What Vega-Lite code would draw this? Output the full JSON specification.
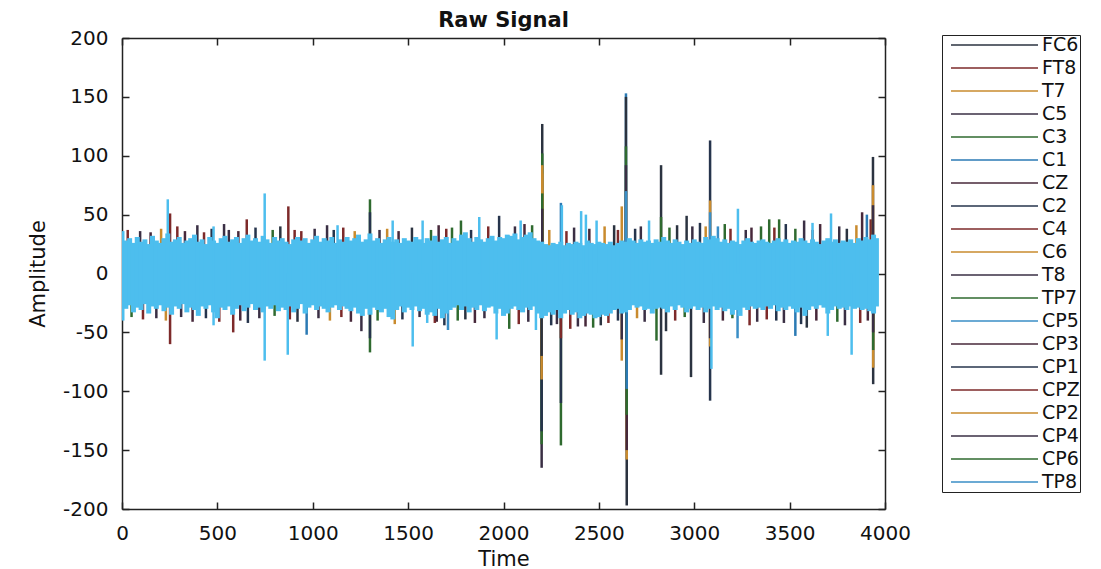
{
  "$schema": "https://vega.github.io/schema/vega-lite/v6.json",
  "width": 763,
  "height": 471,
  "autosize": "none",
  "padding": {"left": 122, "top": 38, "right": 216, "bottom": 60},
  "background": "white",
  "title": {"text": "Raw Signal", "font": "DejaVu Sans", "fontSize": 21, "fontWeight": "bold", "color": "#111", "anchor": "middle", "offset": -3},
  "config": {
    "view": {"stroke": null},
    "axis": {"domainColor": "#222", "domainWidth": 1.5, "tickColor": "#222", "tickWidth": 1.5, "tickSize": -7, "labelFont": "DejaVu Sans", "labelFontSize": 20, "labelColor": "#111", "labelPadding": 21, "labelOverlap": false, "labelFlush": false, "grid": false, "titleFont": "DejaVu Sans", "titleFontSize": 21, "titleFontWeight": "normal", "titleColor": "#111"},
    "legend": {"orient": "none", "legendX": 820, "legendY": -3, "symbolType": "stroke", "symbolSize": 7569, "symbolStrokeWidth": 1.6, "symbolOffset": 8, "labelFont": "DejaVu Sans", "labelFontSize": 19, "labelColor": "#111", "strokeColor": "#222", "fillColor": "white", "padding": 0, "clipHeight": 20, "rowPadding": 3, "labelOffset": 3, "symbolOpacity": 1}
  },
  "datasets": {
    "band": [
      {"t":0,"hi":36,"lo":-40},{"t":20,"hi":28,"lo":-30},{"t":40,"hi":30,"lo":-27},{"t":60,"hi":26,"lo":-33},{"t":80,"hi":31,"lo":-29},{"t":100,"hi":27,"lo":-31},{"t":120,"hi":29,"lo":-26},{"t":140,"hi":25,"lo":-34},{"t":160,"hi":32,"lo":-28},{"t":180,"hi":28,"lo":-30},
      {"t":200,"hi":26,"lo":-27},{"t":220,"hi":30,"lo":-32},{"t":240,"hi":34,"lo":-29},{"t":260,"hi":27,"lo":-35},{"t":280,"hi":29,"lo":-28},{"t":300,"hi":31,"lo":-30},{"t":320,"hi":26,"lo":-26},{"t":340,"hi":28,"lo":-33},{"t":360,"hi":30,"lo":-29},{"t":380,"hi":33,"lo":-31},
      {"t":400,"hi":27,"lo":-36},{"t":420,"hi":29,"lo":-28},{"t":440,"hi":25,"lo":-30},{"t":460,"hi":31,"lo":-27},{"t":480,"hi":28,"lo":-33},{"t":500,"hi":26,"lo":-38},{"t":520,"hi":30,"lo":-29},{"t":540,"hi":32,"lo":-31},{"t":560,"hi":27,"lo":-28},{"t":580,"hi":29,"lo":-35},
      {"t":600,"hi":31,"lo":-30},{"t":620,"hi":26,"lo":-27},{"t":640,"hi":30,"lo":-32},{"t":660,"hi":33,"lo":-29},{"t":680,"hi":28,"lo":-26},{"t":700,"hi":30,"lo":-31},{"t":720,"hi":27,"lo":-29},{"t":740,"hi":32,"lo":-33},{"t":760,"hi":29,"lo":-28},{"t":780,"hi":26,"lo":-30},
      {"t":800,"hi":31,"lo":-27},{"t":820,"hi":28,"lo":-32},{"t":840,"hi":30,"lo":-29},{"t":860,"hi":27,"lo":-31},{"t":880,"hi":25,"lo":-28},{"t":900,"hi":29,"lo":-33},{"t":920,"hi":31,"lo":-30},{"t":940,"hi":28,"lo":-26},{"t":960,"hi":30,"lo":-34},{"t":980,"hi":26,"lo":-29},
      {"t":1000,"hi":29,"lo":-27},{"t":1020,"hi":32,"lo":-31},{"t":1040,"hi":27,"lo":-28},{"t":1060,"hi":30,"lo":-30},{"t":1080,"hi":28,"lo":-33},{"t":1100,"hi":31,"lo":-29},{"t":1120,"hi":26,"lo":-27},{"t":1140,"hi":29,"lo":-31},{"t":1160,"hi":27,"lo":-28},{"t":1180,"hi":31,"lo":-30},
      {"t":1200,"hi":28,"lo":-32},{"t":1220,"hi":30,"lo":-29},{"t":1240,"hi":33,"lo":-34},{"t":1260,"hi":27,"lo":-36},{"t":1280,"hi":29,"lo":-30},{"t":1300,"hi":34,"lo":-35},{"t":1320,"hi":28,"lo":-29},{"t":1340,"hi":30,"lo":-31},{"t":1360,"hi":26,"lo":-33},{"t":1380,"hi":29,"lo":-30},
      {"t":1400,"hi":31,"lo":-37},{"t":1420,"hi":27,"lo":-39},{"t":1440,"hi":29,"lo":-31},{"t":1460,"hi":26,"lo":-28},{"t":1480,"hi":30,"lo":-33},{"t":1500,"hi":28,"lo":-29},{"t":1520,"hi":27,"lo":-31},{"t":1540,"hi":31,"lo":-28},{"t":1560,"hi":29,"lo":-32},{"t":1580,"hi":26,"lo":-30},
      {"t":1600,"hi":30,"lo":-35},{"t":1620,"hi":28,"lo":-33},{"t":1640,"hi":32,"lo":-36},{"t":1660,"hi":27,"lo":-30},{"t":1680,"hi":29,"lo":-38},{"t":1700,"hi":31,"lo":-34},{"t":1720,"hi":26,"lo":-31},{"t":1740,"hi":30,"lo":-29},{"t":1760,"hi":28,"lo":-27},{"t":1780,"hi":33,"lo":-31},
      {"t":1800,"hi":35,"lo":-28},{"t":1820,"hi":30,"lo":-33},{"t":1840,"hi":27,"lo":-29},{"t":1860,"hi":31,"lo":-31},{"t":1880,"hi":29,"lo":-27},{"t":1900,"hi":27,"lo":-32},{"t":1920,"hi":30,"lo":-29},{"t":1940,"hi":32,"lo":-28},{"t":1960,"hi":28,"lo":-34},{"t":1980,"hi":31,"lo":-30},
      {"t":2000,"hi":30,"lo":-36},{"t":2020,"hi":33,"lo":-34},{"t":2040,"hi":32,"lo":-30},{"t":2060,"hi":34,"lo":-28},{"t":2080,"hi":29,"lo":-31},{"t":2100,"hi":31,"lo":-33},{"t":2120,"hi":33,"lo":-29},{"t":2140,"hi":35,"lo":-31},{"t":2160,"hi":30,"lo":-28},{"t":2180,"hi":28,"lo":-34},
      {"t":2200,"hi":27,"lo":-38},{"t":2220,"hi":25,"lo":-36},{"t":2240,"hi":24,"lo":-33},{"t":2260,"hi":26,"lo":-35},{"t":2280,"hi":25,"lo":-31},{"t":2300,"hi":27,"lo":-38},{"t":2320,"hi":24,"lo":-34},{"t":2340,"hi":26,"lo":-31},{"t":2360,"hi":25,"lo":-35},{"t":2380,"hi":27,"lo":-33},
      {"t":2400,"hi":26,"lo":-38},{"t":2420,"hi":24,"lo":-36},{"t":2440,"hi":28,"lo":-34},{"t":2460,"hi":26,"lo":-35},{"t":2480,"hi":25,"lo":-38},{"t":2500,"hi":27,"lo":-37},{"t":2520,"hi":26,"lo":-35},{"t":2540,"hi":25,"lo":-36},{"t":2560,"hi":27,"lo":-34},{"t":2580,"hi":24,"lo":-31},
      {"t":2600,"hi":26,"lo":-30},{"t":2620,"hi":28,"lo":-34},{"t":2640,"hi":27,"lo":-33},{"t":2660,"hi":30,"lo":-31},{"t":2680,"hi":28,"lo":-27},{"t":2700,"hi":26,"lo":-29},{"t":2720,"hi":29,"lo":-28},{"t":2740,"hi":27,"lo":-31},{"t":2760,"hi":28,"lo":-30},{"t":2780,"hi":26,"lo":-34},
      {"t":2800,"hi":29,"lo":-30},{"t":2820,"hi":27,"lo":-29},{"t":2840,"hi":31,"lo":-30},{"t":2860,"hi":28,"lo":-33},{"t":2880,"hi":26,"lo":-28},{"t":2900,"hi":29,"lo":-31},{"t":2920,"hi":27,"lo":-27},{"t":2940,"hi":25,"lo":-29},{"t":2960,"hi":28,"lo":-33},{"t":2980,"hi":26,"lo":-30},
      {"t":3000,"hi":29,"lo":-28},{"t":3020,"hi":27,"lo":-31},{"t":3040,"hi":26,"lo":-29},{"t":3060,"hi":31,"lo":-33},{"t":3080,"hi":29,"lo":-30},{"t":3100,"hi":32,"lo":-28},{"t":3120,"hi":30,"lo":-31},{"t":3140,"hi":27,"lo":-29},{"t":3160,"hi":29,"lo":-32},{"t":3180,"hi":26,"lo":-30},
      {"t":3200,"hi":28,"lo":-35},{"t":3220,"hi":27,"lo":-31},{"t":3240,"hi":25,"lo":-36},{"t":3260,"hi":28,"lo":-29},{"t":3280,"hi":30,"lo":-31},{"t":3300,"hi":27,"lo":-28},{"t":3320,"hi":26,"lo":-30},{"t":3340,"hi":28,"lo":-29},{"t":3360,"hi":29,"lo":-31},{"t":3380,"hi":27,"lo":-28},
      {"t":3400,"hi":26,"lo":-30},{"t":3420,"hi":28,"lo":-27},{"t":3440,"hi":30,"lo":-32},{"t":3460,"hi":27,"lo":-29},{"t":3480,"hi":29,"lo":-31},{"t":3500,"hi":26,"lo":-28},{"t":3520,"hi":28,"lo":-30},{"t":3540,"hi":27,"lo":-33},{"t":3560,"hi":30,"lo":-29},{"t":3580,"hi":28,"lo":-36},
      {"t":3600,"hi":26,"lo":-31},{"t":3620,"hi":29,"lo":-28},{"t":3640,"hi":27,"lo":-30},{"t":3660,"hi":25,"lo":-27},{"t":3680,"hi":28,"lo":-29},{"t":3700,"hi":30,"lo":-34},{"t":3720,"hi":27,"lo":-31},{"t":3740,"hi":29,"lo":-28},{"t":3760,"hi":26,"lo":-30},{"t":3780,"hi":28,"lo":-29},
      {"t":3800,"hi":27,"lo":-31},{"t":3820,"hi":29,"lo":-28},{"t":3840,"hi":26,"lo":-30},{"t":3860,"hi":30,"lo":-29},{"t":3880,"hi":28,"lo":-31},{"t":3900,"hi":31,"lo":-30},{"t":3920,"hi":29,"lo":-32},{"t":3940,"hi":33,"lo":-34},{"t":3955,"hi":30,"lo":-28}
    ],
    "lb": [
      {"t":240,"hi":63,"lo":0},{"t":748,"hi":68,"lo":-74},{"t":869,"hi":0,"lo":-69},{"t":1419,"hi":45,"lo":0},{"t":1524,"hi":0,"lo":-62},{"t":1576,"hi":45,"lo":0},{"t":1873,"hi":48,"lo":0},{"t":1964,"hi":0,"lo":-56},
      {"t":2306,"hi":58,"lo":0},{"t":2407,"hi":53,"lo":0},{"t":2432,"hi":50,"lo":0},{"t":2488,"hi":45,"lo":0},{"t":2763,"hi":45,"lo":0},{"t":3229,"hi":55,"lo":0},{"t":3700,"hi":0,"lo":-53},{"t":3717,"hi":51,"lo":0},
      {"t":3090,"hi":0,"lo":-81},{"t":3825,"hi":0,"lo":-69},{"t":1600,"hi":0,"lo":-42},{"t":2090,"hi":45,"lo":0},{"t":3620,"hi":43,"lo":0},{"t":480,"hi":40,"lo":-44},{"t":1130,"hi":41,"lo":0},{"t":2170,"hi":0,"lo":-48}
    ],
    "spikes": [
      {"t":30,"v":37,"ch":"FT8"},{"t":95,"v":36,"ch":"C5"},{"t":150,"v":35,"ch":"CZ"},{"t":205,"v":38,"ch":"T7"},{"t":290,"v":40,"ch":"C4"},{"t":330,"v":36,"ch":"CP3"},{"t":395,"v":41,"ch":"C5"},{"t":430,"v":35,"ch":"FT8"},{"t":470,"v":38,"ch":"CP1"},{"t":560,"v":37,"ch":"T8"},
      {"t":610,"v":36,"ch":"CZ"},{"t":700,"v":39,"ch":"C2"},{"t":790,"v":37,"ch":"C3"},{"t":830,"v":40,"ch":"FC6"},{"t":905,"v":37,"ch":"C4"},{"t":940,"v":36,"ch":"CPZ"},{"t":1010,"v":38,"ch":"T8"},{"t":1075,"v":41,"ch":"CP4"},{"t":1110,"v":37,"ch":"CP1"},{"t":1160,"v":39,"ch":"FT8"},
      {"t":1220,"v":36,"ch":"C6"},{"t":1350,"v":37,"ch":"C5"},{"t":1390,"v":38,"ch":"CP2"},{"t":1450,"v":36,"ch":"CZ"},{"t":1520,"v":39,"ch":"FC6"},{"t":1620,"v":37,"ch":"C3"},{"t":1660,"v":41,"ch":"CP3"},{"t":1700,"v":38,"ch":"C4"},{"t":1730,"v":39,"ch":"CP6"},{"t":1830,"v":37,"ch":"C2"},
      {"t":1920,"v":40,"ch":"FT8"},{"t":2060,"v":40,"ch":"C5"},{"t":2110,"v":42,"ch":"CZ"},{"t":2150,"v":41,"ch":"TP7"},{"t":2240,"v":37,"ch":"CP2"},{"t":2330,"v":36,"ch":"C4"},{"t":2370,"v":39,"ch":"T8"},{"t":2450,"v":38,"ch":"CP3"},{"t":2530,"v":40,"ch":"C6"},{"t":2580,"v":41,"ch":"FC6"},
      {"t":2600,"v":37,"ch":"CPZ"},{"t":2690,"v":38,"ch":"C2"},{"t":2720,"v":40,"ch":"CP4"},{"t":2870,"v":39,"ch":"C3"},{"t":2910,"v":41,"ch":"FC6"},{"t":2990,"v":40,"ch":"C5"},{"t":3030,"v":43,"ch":"CP1"},{"t":3060,"v":40,"ch":"T7"},{"t":3160,"v":42,"ch":"TP7"},{"t":3190,"v":38,"ch":"C4"},
      {"t":3270,"v":37,"ch":"C5"},{"t":3300,"v":39,"ch":"CZ"},{"t":3350,"v":40,"ch":"CP6"},{"t":3420,"v":39,"ch":"FT8"},{"t":3480,"v":42,"ch":"C2"},{"t":3530,"v":38,"ch":"C3"},{"t":3620,"v":37,"ch":"CPZ"},{"t":3660,"v":42,"ch":"CP3"},{"t":3760,"v":40,"ch":"T8"},{"t":3800,"v":38,"ch":"FC6"},
      {"t":3850,"v":41,"ch":"CP2"},{"t":3925,"v":46,"ch":"FT8"},
      {"t":50,"v":-37,"ch":"C3"},{"t":110,"v":-39,"ch":"FT8"},{"t":180,"v":-38,"ch":"CP4"},{"t":230,"v":-40,"ch":"T7"},{"t":310,"v":-37,"ch":"C5"},{"t":370,"v":-41,"ch":"CZ"},{"t":440,"v":-38,"ch":"CP1"},{"t":510,"v":-41,"ch":"C4"},{"t":620,"v":-40,"ch":"CP3"},{"t":660,"v":-42,"ch":"C2"},
      {"t":720,"v":-38,"ch":"T8"},{"t":800,"v":-36,"ch":"C3"},{"t":880,"v":-39,"ch":"CPZ"},{"t":920,"v":-41,"ch":"FC6"},{"t":1030,"v":-38,"ch":"C5"},{"t":1090,"v":-40,"ch":"CP2"},{"t":1150,"v":-37,"ch":"FT8"},{"t":1200,"v":-41,"ch":"CZ"},{"t":1255,"v":-49,"ch":"C5"},{"t":1340,"v":-40,"ch":"TP7"},
      {"t":1430,"v":-43,"ch":"C6"},{"t":1470,"v":-39,"ch":"CP1"},{"t":1560,"v":-37,"ch":"T8"},{"t":1640,"v":-42,"ch":"FT8"},{"t":1650,"v":-41,"ch":"CP3"},{"t":1690,"v":-44,"ch":"C2"},{"t":1760,"v":-40,"ch":"C3"},{"t":1800,"v":-39,"ch":"FC6"},{"t":1850,"v":-42,"ch":"CZ"},{"t":1900,"v":-38,"ch":"CP4"},
      {"t":2030,"v":-47,"ch":"C3"},{"t":2080,"v":-43,"ch":"FT8"},{"t":2130,"v":-41,"ch":"C5"},{"t":2250,"v":-44,"ch":"CP1"},{"t":2280,"v":-43,"ch":"T8"},{"t":2350,"v":-47,"ch":"C4"},{"t":2390,"v":-45,"ch":"C5"},{"t":2430,"v":-45,"ch":"CP3"},{"t":2470,"v":-46,"ch":"C3"},{"t":2510,"v":-44,"ch":"FC6"},
      {"t":2550,"v":-42,"ch":"CPZ"},{"t":2600,"v":-40,"ch":"C2"},{"t":2700,"v":-38,"ch":"CP2"},{"t":2740,"v":-41,"ch":"C5"},{"t":2852,"v":-49,"ch":"FC6"},{"t":2900,"v":-40,"ch":"C4"},{"t":2950,"v":-37,"ch":"TP7"},{"t":3050,"v":-42,"ch":"CP4"},{"t":3150,"v":-40,"ch":"CZ"},{"t":3200,"v":-38,"ch":"C3"},
      {"t":3290,"v":-44,"ch":"C4"},{"t":3330,"v":-41,"ch":"T8"},{"t":3380,"v":-39,"ch":"FT8"},{"t":3430,"v":-40,"ch":"C2"},{"t":3470,"v":-42,"ch":"C5"},{"t":3560,"v":-43,"ch":"CP1"},{"t":3590,"v":-46,"ch":"FC6"},{"t":3640,"v":-40,"ch":"CZ"},{"t":3750,"v":-41,"ch":"C3"},{"t":3790,"v":-44,"ch":"T8"},
      {"t":3870,"v":-42,"ch":"FT8"},{"t":3910,"v":-40,"ch":"CP3"},
      {"t":2203,"v":127,"ch":"FC6"},{"t":2203,"v":102,"ch":"C3"},{"t":2203,"v":92,"ch":"C6"},{"t":2203,"v":85,"ch":"T7"},{"t":2203,"v":68,"ch":"TP7"},{"t":2203,"v":55,"ch":"C5"},
      {"t":2301,"v":60,"ch":"C1"},
      {"t":2642,"v":153,"ch":"C1"},{"t":2642,"v":150,"ch":"FC6"},{"t":2642,"v":108,"ch":"CP6"},{"t":2642,"v":92,"ch":"C5"},{"t":2642,"v":70,"ch":"CP5"},
      {"t":2620,"v":57,"ch":"T7"},
      {"t":2826,"v":92,"ch":"FC6"},{"t":2826,"v":48,"ch":"TP7"},
      {"t":2960,"v":49,"ch":"FC6"},
      {"t":3083,"v":113,"ch":"C2"},{"t":3083,"v":62,"ch":"C6"},{"t":3083,"v":52,"ch":"CP5"},
      {"t":3937,"v":99,"ch":"FC6"},{"t":3937,"v":75,"ch":"T7"},{"t":3937,"v":58,"ch":"CP4"},
      {"t":252,"v":51,"ch":"FT8"},{"t":872,"v":57,"ch":"FT8"},{"t":1300,"v":63,"ch":"C3"},{"t":1300,"v":52,"ch":"C2"},{"t":654,"v":46,"ch":"C4"},{"t":535,"v":42,"ch":"CP4"},{"t":1777,"v":45,"ch":"C3"},{"t":1977,"v":49,"ch":"CP1"},
      {"t":3880,"v":52,"ch":"CZ"},{"t":3905,"v":50,"ch":"C1"},{"t":3445,"v":46,"ch":"C3"},{"t":3393,"v":46,"ch":"TP7"},{"t":3576,"v":45,"ch":"CP4"},{"t":3124,"v":40,"ch":"CP5"},
      {"t":2200,"v":-165,"ch":"C5"},{"t":2200,"v":-145,"ch":"C3"},{"t":2200,"v":-134,"ch":"CP1"},{"t":2200,"v":-90,"ch":"T7"},{"t":2200,"v":-70,"ch":"FC6"},
      {"t":2301,"v":-146,"ch":"TP7"},{"t":2301,"v":-110,"ch":"C2"},{"t":2301,"v":-55,"ch":"FT8"},
      {"t":2620,"v":-74,"ch":"T7"},{"t":2620,"v":-56,"ch":"C5"},
      {"t":2646,"v":-197,"ch":"FC6"},{"t":2646,"v":-158,"ch":"C6"},{"t":2646,"v":-150,"ch":"CZ"},{"t":2646,"v":-120,"ch":"C3"},{"t":2646,"v":-98,"ch":"C1"},
      {"t":2826,"v":-86,"ch":"FC6"},{"t":2802,"v":-57,"ch":"C3"},{"t":2983,"v":-88,"ch":"FC6"},
      {"t":3083,"v":-108,"ch":"C2"},{"t":3083,"v":-62,"ch":"C6"},{"t":3083,"v":-55,"ch":"C5"},
      {"t":3938,"v":-94,"ch":"FC6"},{"t":3938,"v":-80,"ch":"T7"},{"t":3938,"v":-65,"ch":"C3"},{"t":3938,"v":-50,"ch":"CP4"},
      {"t":252,"v":-60,"ch":"FT8"},{"t":1300,"v":-67,"ch":"C3"},{"t":1300,"v":-55,"ch":"C2"},{"t":968,"v":-52,"ch":"C1"},{"t":583,"v":-50,"ch":"FT8"},{"t":1709,"v":-48,"ch":"CP5"},{"t":3227,"v":-55,"ch":"CP5"},{"t":3530,"v":-53,"ch":"C1"}
    ]
  },
  "layer": [
    {
      "data": {"name": "spikes"},
      "mark": {"type": "rule", "strokeWidth": 2.5, "clip": true},
      "encoding": {
        "x": {"field": "t", "type": "quantitative", "scale": {"domain": [0, 4000], "nice": false, "zero": false}, "axis": {"orient": "bottom", "values": [0,500,1000,1500,2000,2500,3000,3500,4000], "format": "d", "title": "Time", "titlePadding": 5}},
        "y": {"field": "v", "type": "quantitative", "scale": {"domain": [-200, 200], "nice": false, "zero": false}, "axis": {"orient": "left", "values": [-200,-150,-100,-50,0,50,100,150,200], "labelExpr": "datum.value < 0 ? '-' + abs(datum.value) : '' + datum.value", "title": "Amplitude", "titlePadding": 14}},
        "y2": {"datum": 0},
        "color": {"field": "ch", "type": "nominal", "scale": {"domain": ["FC6","FT8","T7","C5","C3","C1","CZ","C2","C4","C6","T8","TP7","CP5","CP3","CP1","CPZ","CP2","CP4","CP6","TP8"], "range": ["#2b3340","#7d2a2a","#c98b2e","#3a2f44","#2f6a2f","#2b7ab4","#47283a","#26344c","#7d2a2a","#c98b2e","#3a2f44","#2f6a2f","#3a8ec6","#47283a","#26344c","#7d2a2a","#c98b2e","#3a2f44","#2f6a2f","#3a8ec6"]}, "legend": {"title": null, "labelExpr": "datum.label + '\u00a0\u00a0\u00a0\u00a0'"}}
      }
    },
    {
      "data": {"name": "band"},
      "mark": {"type": "rule", "strokeWidth": 5, "color": "#4DBEEE", "clip": true},
      "encoding": {
        "x": {"field": "t", "type": "quantitative", "axis": {"orient": "top", "values": [0,500,1000,1500,2000,2500,3000,3500,4000], "labels": false, "title": null}},
        "y": {"field": "hi", "type": "quantitative", "axis": {"orient": "right", "values": [-200,-150,-100,-50,0,50,100,150,200], "labels": false, "title": null}},
        "y2": {"field": "lo"}
      }
    },
    {
      "data": {"name": "lb"},
      "mark": {"type": "rule", "strokeWidth": 2.5, "color": "#4DBEEE", "clip": true},
      "encoding": {
        "x": {"field": "t", "type": "quantitative", "axis": null},
        "y": {"field": "hi", "type": "quantitative", "axis": null},
        "y2": {"field": "lo"}
      }
    }
  ]
}
